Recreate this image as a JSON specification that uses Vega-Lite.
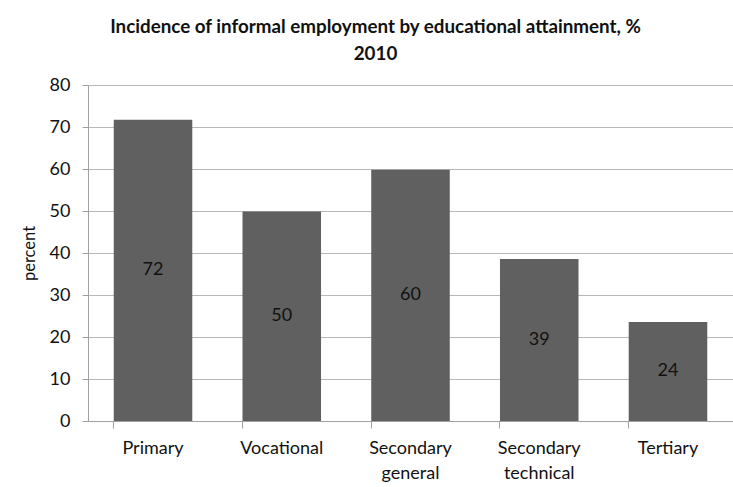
{
  "$schema": "https://vega.github.io/schema/vega-lite/v6.json",
  "width": 645,
  "height": 336,
  "autosize": {"type": "none"},
  "padding": {"left": 88, "top": 85, "right": 0, "bottom": 66},
  "background": "white",
  "title": {
    "text": ["Incidence of informal employment by educational attainment, %", "2010"],
    "font": "Lato, sans-serif",
    "fontSize": 18.8,
    "fontWeight": "bold",
    "color": "#111",
    "lineHeight": 27,
    "dx": -35,
    "offset": 12,
    "anchor": "middle"
  },
  "data": {
    "values": [
      {"level": "Primary", "value": 71.7},
      {"level": "Vocational", "value": 49.9},
      {"level": "Secondary general", "value": 59.8},
      {"level": "Secondary technical", "value": 38.6},
      {"level": "Tertiary", "value": 23.6}
    ]
  },
  "transform": [{"calculate": "datum.value / 2", "as": "mid"}],
  "encoding": {
    "x": {
      "field": "level",
      "type": "nominal",
      "sort": null,
      "scale": {"paddingInner": 0.39, "paddingOuter": 0.2},
      "axis": {
        "title": null,
        "labelAngle": 0,
        "labelExpr": "split(datum.label, ' ')",
        "labelFont": "Lato, sans-serif",
        "labelFontSize": 18,
        "labelColor": "#111",
        "labelPadding": 11,
        "labelLineHeight": 25,
        "bandPosition": 0,
        "domainColor": "#a0a0a0",
        "tickColor": "#a0a0a0",
        "tickSize": 7,
        "grid": false
      }
    },
    "y": {
      "field": "value",
      "type": "quantitative",
      "scale": {"domain": [0, 80]},
      "axis": {
        "title": "percent",
        "titleFont": "Lato, sans-serif",
        "titleFontSize": 16.5,
        "titleFontWeight": "normal",
        "titleColor": "#111",
        "titlePadding": 12,
        "values": [0, 10, 20, 30, 40, 50, 60, 70, 80],
        "labelFont": "Lato, sans-serif",
        "labelFontSize": 18,
        "labelColor": "#111",
        "labelPadding": 12,
        "domainColor": "#a0a0a0",
        "tickColor": "#a0a0a0",
        "tickSize": 6,
        "gridColor": "#b8b8b8",
        "gridWidth": 1.2
      }
    }
  },
  "layer": [
    {"mark": {"type": "bar", "color": "#606060"}},
    {
      "mark": {
        "type": "text",
        "font": "Lato, sans-serif",
        "fontSize": 18,
        "color": "#111",
        "baseline": "middle"
      },
      "encoding": {
        "y": {"field": "mid", "type": "quantitative"},
        "text": {"field": "value", "type": "quantitative", "format": ".0f"}
      }
    }
  ],
  "config": {"view": {"stroke": null}}
}
